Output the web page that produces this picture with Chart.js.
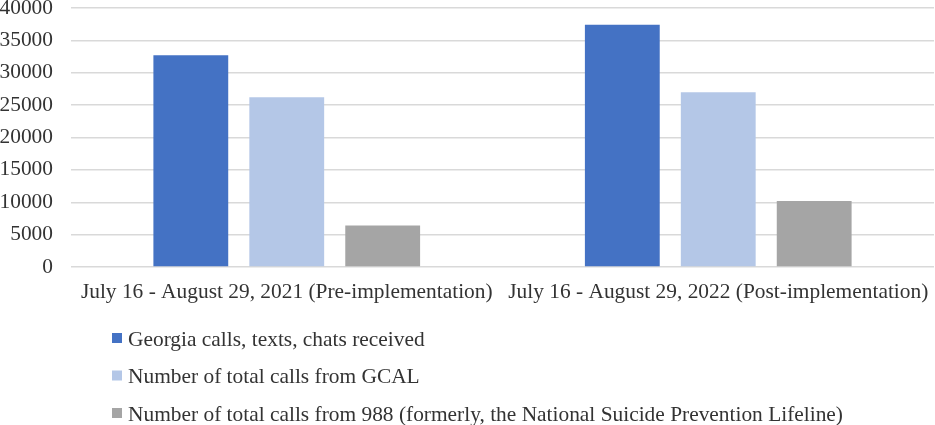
<!DOCTYPE html>
<html>
<head>
<meta charset="utf-8">
<script src="https://cdn.jsdelivr.net/npm/chart.js@4.4.0/dist/chart.umd.min.js"></script>
<style>
  html, body { margin: 0; padding: 0; background: #ffffff; }
  #wrap { position: relative; width: 935px; height: 425px; }
</style>
</head>
<body>
<div id="wrap"><canvas id="c" width="935" height="425"></canvas></div>
<script>
const categories = [
  "July 16 - August 29, 2021 (Pre-implementation)",
  "July 16 - August 29, 2022 (Post-implementation)"
];
const seriesNames = [
  "Georgia calls, texts, chats received",
  "Number of total calls from GCAL",
  "Number of total calls from 988 (formerly, the National Suicide Prevention Lifeline)"
];
const georgiaReceived = [32700, 37400];
const gcalCalls = [26200, 27000];
const calls988 = [6400, 10200];
const yTicks = [0, 5000, 10000, 15000, 20000, 25000, 30000, 35000, 40000];

const colors = ["#4472C4", "#B4C7E7", "#A5A5A5"];
const seriesValues = [georgiaReceived, gcalCalls, calls988];
const FONT = "'Liberation Serif', 'Times New Roman', serif";
const FSIZE = 21.4;
const TEXT = '#333333';

const legendPlugin = {
  id: 'vlegend',
  afterDraw(chart) {
    const ctx = chart.ctx;
    ctx.save();
    ctx.font = FSIZE + "px " + FONT;
    ctx.textBaseline = 'middle';
    ctx.textAlign = 'left';
    chart.data.datasets.forEach((ds, i) => {
      const y = 339 + i * 37.5;
      ctx.fillStyle = ds.backgroundColor;
      ctx.fillRect(112, y - 6, 10, 10);
      ctx.fillStyle = TEXT;
      ctx.fillText(ds.label, 128, y + 1);
    });
    ctx.restore();
  }
};

new Chart(document.getElementById('c'), {
  type: 'bar',
  data: {
    labels: categories,
    datasets: seriesNames.map((name, i) => ({
      label: name,
      data: seriesValues[i],
      backgroundColor: colors[i],
      borderWidth: 0,
      categoryPercentage: 0.667,
      barPercentage: 0.78
    }))
  },
  options: {
    responsive: false,
    animation: false,
    devicePixelRatio: 1,
    layout: { padding: { top: 0, right: 1, bottom: 120, left: 0 } },
    plugins: { legend: { display: false }, tooltip: { enabled: false } },
    scales: {
      x: {
        grid: { display: false, drawTicks: false },
        border: { display: false },
        ticks: { color: TEXT, padding: 13, maxRotation: 0, minRotation: 0, autoSkip: false,
                 font: { family: FONT, size: FSIZE } },
        afterFit(scale) {
          scale.height = 38;
          scale.paddingLeft = 0; scale.paddingRight = 0;
          scale.paddingTop = 0; scale.paddingBottom = 0;
        }
      },
      y: {
        min: 0, max: 40000,
        afterBuildTicks(scale) { scale.ticks = yTicks.map(v => ({ value: v })); },
        grid: { color: '#D9D9D9', lineWidth: 1.5, drawTicks: false },
        border: { display: false },
        ticks: { color: TEXT, padding: 18,
                 font: { family: FONT, size: FSIZE },
                 callback: (v) => String(v) },
        afterFit(scale) {
          scale.width = 71;
          scale.paddingTop = 8; scale.paddingBottom = 0;
        }
      }
    }
  },
  plugins: [legendPlugin]
});
</script>
</body>
</html>
